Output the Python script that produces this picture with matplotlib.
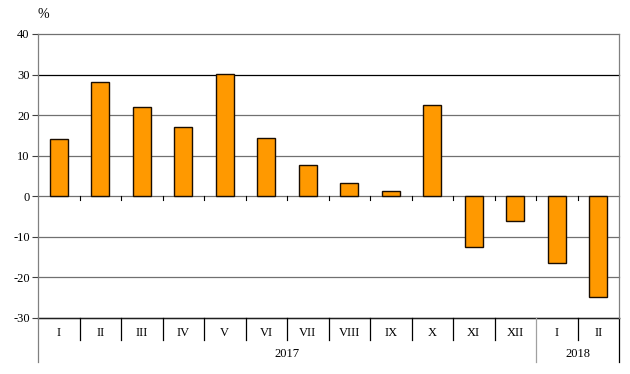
import matplotlib.pyplot as plt
import matplotlib.transforms as mtransforms

plt.rcParams['font.family'] = ['Liberation Serif', 'DejaVu Serif']

# data
months = ['I', 'II', 'III', 'IV', 'V', 'VI', 'VII', 'VIII', 'IX', 'X', 'XI', 'XII', 'I', 'II']
values = [14.0, 28.2, 21.9, 17.0, 30.2, 14.3, 7.8, 3.2, 1.2, 22.6, -12.6, -6.2, -16.4, -24.9]
years = ['2017', '2018']
year_counts = [12, 2]
y_ticks = [-30, -20, -10, 0, 10, 20, 30, 40]

fig = plt.figure(figsize=(6.3, 3.74), dpi=100)
ax = fig.add_axes([38 / 630, 1 - 318 / 374, (619 - 38) / 630, (318 - 34) / 374])

x = list(range(len(months)))
ax.bar(x, values, width=0.43, color='#FF9900', edgecolor='#1a0d00', linewidth=1.0, zorder=3)

ax.set_xlim(-0.5, len(months) - 0.5)
ax.set_ylim(-30, 40)
ax.set_yticks(y_ticks)
ax.set_yticklabels([str(t) for t in y_ticks], fontsize=9)
ax.tick_params(axis='y', length=4, width=0.8, color='#404040', pad=2)
ax.set_xticks([])

for t in y_ticks:
    c = '#000000' if t == 30 else '#707070'
    ax.axhline(t, color=c, linewidth=0.9, zorder=1, clip_on=False)
ax.axhline(-30, color='#202020', linewidth=1.0, zorder=2, clip_on=False)

for side in ['top', 'bottom']:
    ax.spines[side].set_visible(False)
ax.spines['left'].set_color('#808080')
ax.spines['right'].set_color('#808080')
ax.spines['left'].set_linewidth(0.9)
ax.spines['right'].set_linewidth(0.9)

# small ticks on the zero line
for i in range(1, len(months)):
    ax.plot([i - 0.5, i - 0.5], [0, -0.8], color='#000000', linewidth=0.8, zorder=2)

trans = mtransforms.blended_transform_factory(ax.transData, ax.transAxes)
px = 1 / 284  # one pixel in axes units (vertical)

# month labels and separators
for i, m in enumerate(months):
    ax.text(i, -15 * px, m, transform=trans, ha='center', va='center', fontsize=9)
for i in range(1, len(months)):
    if i == year_counts[0]:
        continue
    ax.plot([i - 0.5, i - 0.5], [0, -22 * px], transform=trans, color='#000000',
            linewidth=0.9, clip_on=False)

# year labels and separators
start = 0
for yr, n in zip(years, year_counts):
    ax.text(start + (n - 1) / 2, -36 * px, yr, transform=trans, ha='center', va='center', fontsize=9)
    start += n
ax.plot([-0.5, -0.5], [0, -44 * px], transform=trans, color='#808080', linewidth=0.9, clip_on=False)
ax.plot([year_counts[0] - 0.5] * 2, [0, -44 * px], transform=trans, color='#a0a0a0',
        linewidth=0.9, clip_on=False)
ax.plot([len(months) - 0.5] * 2, [0, -44 * px], transform=trans, color='#000000',
        linewidth=0.9, clip_on=False)

fig.text(43 / 630, 1 - 14 / 374, '%', ha='center', va='center', fontsize=10)

fig.savefig('out.png', dpi=100)
